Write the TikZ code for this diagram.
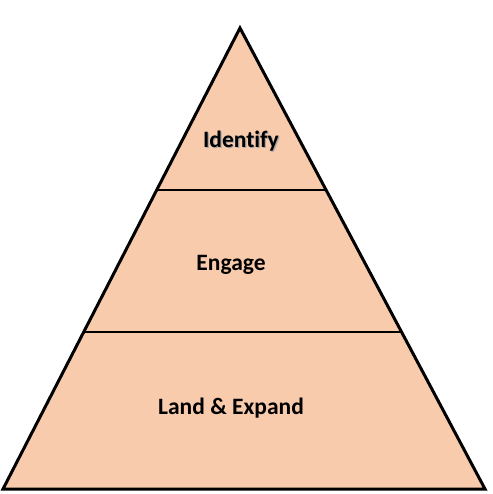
\documentclass[tikz,border=0pt]{standalone}
\usepackage{fontspec}
\setmainfont[Ligatures={NoCommon,NoRare,NoContextual}]{Carlito}
\usepackage{tikz}

\begin{document}
\begin{tikzpicture}[
        x=1pt, y=-1pt,
        layer/.style={fill=peach, draw=black, line width=3pt, line join=miter},
        divider/.style={draw=black, line width=2.8pt},
        label/.style={font=\bfseries\fontsize{23.5}{26}\selectfont, inner sep=0pt}
    ]
    \definecolor{peach}{RGB}{248,203,173}
    \useasboundingbox (0,0) rectangle (492,494);
    % outline of the pyramid
    \coordinate (apex) at (240,28);
    \coordinate (baseL) at (3,489);
    \coordinate (baseR) at (485,489);
    \path[layer] (apex) -- (baseR) -- (baseL) -- cycle;
    % level boundaries
    \coordinate (topL) at (156.7,190);
    \coordinate (topR) at (326,190);
    \coordinate (midL) at (83.7,332);
    \coordinate (midR) at (402,332);
    \draw[divider] (topL) -- (topR);
    \draw[divider] (midL) -- (midR);
    % level labels
    \node[label, text=black!35] (identifyshadow) at (242.2,142.2) {Identify};
    \node[label] (identify) at (241,141) {Identify};
    \node[label] (engage) at (231,265) {Engage};
    \node[label] (land) at (231,408) {Land \& Expand};
\end{tikzpicture}
\end{document}
